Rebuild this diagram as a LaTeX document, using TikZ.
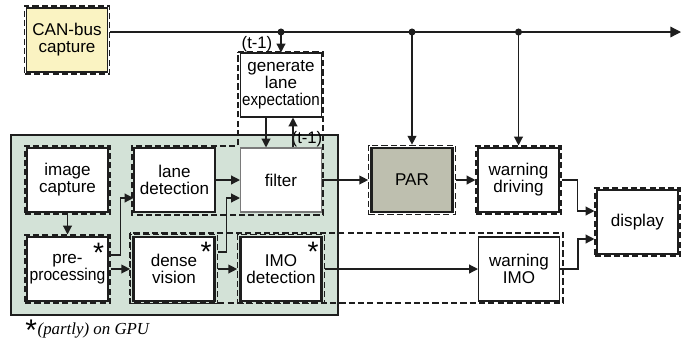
\documentclass[tikz,border=0pt]{standalone}
\usepackage{fontspec}
\usepackage{graphicx}
\usetikzlibrary{arrows.meta,fit}
\newfontfamily\arialfont{Liberation Sans}
\newfontfamily\notefont{Liberation Serif}
\definecolor{Sage}{HTML}{D3E2D7}
\definecolor{Cream}{HTML}{FAF3C2}
\definecolor{Stone}{HTML}{BEBFAF}
\definecolor{Ink}{HTML}{1E1E1E}
\definecolor{Slate}{HTML}{7A7A7A}

\begin{document}
\begin{tikzpicture}[x=0.02cm,y=-0.02cm,
    box/.style={draw=Ink,line width=.6pt,fill=white,minimum width=1.62cm,minimum height=1.28cm,inner sep=.5pt,align=center,font=\arialfont\fontsize{9.7}{9.7}\selectfont},
    heavy/.style={box,line width=1.5pt},
    frame/.style={draw=Ink,line width=.7pt,dash pattern=on 3.5pt off 1.8pt,inner sep=.8pt},
    zone/.style={draw=Ink,line width=.7pt,dash pattern=on 3.5pt off 1.8pt},
    arr/.style={-{Triangle[length=5pt,width=5pt]},line width=.7pt,draw=Ink},
    gpu/.style={anchor=north east,inner sep=0pt,font=\arialfont\fontsize{16}{16}\selectfont},
    tag/.style={inner sep=0pt,font=\arialfont\fontsize{9.5}{9.7}\selectfont}
  ]
    \useasboundingbox (0,0) rectangle (683,343);
    \fill[Sage] (11,135) rectangle (338,315);
    \draw[Ink,line width=.6pt] (11,135) rectangle (338,315);
    \draw[zone] (238,52) -- (323,52) -- (323,215) -- (132,215) -- (132,146) -- (238,146) -- cycle;
    \draw[zone] (130,233) rectangle (563,303);
    \node[box,fill=Cream] (can) at (67,40) {CAN-bus\\capture};
    \node[box] (gen) at (281,85) {generate\\lane\\\scalebox{.89}[1]{expectation}};
    \node[box] (img) at (67.5,180) {image\\capture};
    \node[box] (lane) at (174.5,180) {lane\\detection};
    \node[box,draw=Slate] (filt) at (281,180) {filter};
    \node[heavy,fill=Stone] (par) at (412,180) {PAR};
    \node[box] (wdrv) at (518.5,180) {warning\\driving};
    \node[box] (disp) at (637.5,222) {display};
    \node[box] (pre) at (67.5,269) {pre-\\\scalebox{.92}[1]{processing}};
    \node[heavy] (dense) at (174,269) {dense\\vision};
    \node[heavy] (imo) at (281,269) {IMO\\detection};
    \node[box] (wimo) at (519,269) {warning\\IMO};
    \foreach \n in {can,img,pre,dense,imo,par,wdrv,disp}
      \node[frame,fit=(\n)] (\n-f) {};
    \foreach \n in {pre,dense,imo}
      \node[gpu] (\n-s) at ([shift={(-4,6)}]\n.north east) {*};
    \coordinate (bus) at (0,32);
    \coordinate (busend) at (681,32);
    \draw[arr,-{Triangle[length=6pt,width=6pt]}] (can-f.east |- bus) -- (busend);
    \foreach \n in {gen,par-f,wdrv-f} {
      \fill[Ink] (\n.north |- bus) circle (2pt);
      \draw[arr] (\n.north |- bus) -- (\n.north);
    }
    \node[tag] (lagtop) at (257,44) {(t-1)};
    \node[tag] (lagbot) at (307,139) {(t-1)};
    \draw[arr] ([xshift=-.3cm]gen.south) -- ([xshift=-.3cm]filt.north);
    \draw[arr] ([xshift=.24cm]filt.north) -- ([xshift=.24cm]gen.south);
    \draw[arr] (img-f) -- (pre-f);
    \draw[arr] ([yshift=.28cm]pre-f.east) -- ++(10,0) |- ([yshift=-.36cm]lane.west);
    \draw[arr] (pre-f.east) -- (pre-f.east -| dense-f.west);
    \draw[arr] (lane) -- (filt);
    \draw[arr] ([yshift=.34cm]dense-f.east) -- ++(9,0) |- ([yshift=-.36cm]filt.west);
    \draw[arr] (dense-f) -- (imo-f);
    \draw[arr] (imo-f) -- (wimo);
    \draw[arr] (filt) -- (par-f);
    \draw[arr] (par-f) -- (wdrv-f);
    \draw[arr] (wdrv-f.east) -- ++(16,0) |- ([yshift=.22cm]disp-f.west);
    \draw[arr] (wimo.east) -- ++(18,0) |- ([yshift=-.34cm]disp-f.west);
    \node[gpu,anchor=north west,font=\arialfont\fontsize{17}{17}\selectfont] (notestar) at (25,320) {*};
    \node[anchor=base west,inner sep=0pt,font=\notefont\fontsize{9.6}{10}\selectfont\itshape] (note) at (notestar.north east |- 0,334) {(partly) on GPU};
  \end{tikzpicture}
\end{document}
